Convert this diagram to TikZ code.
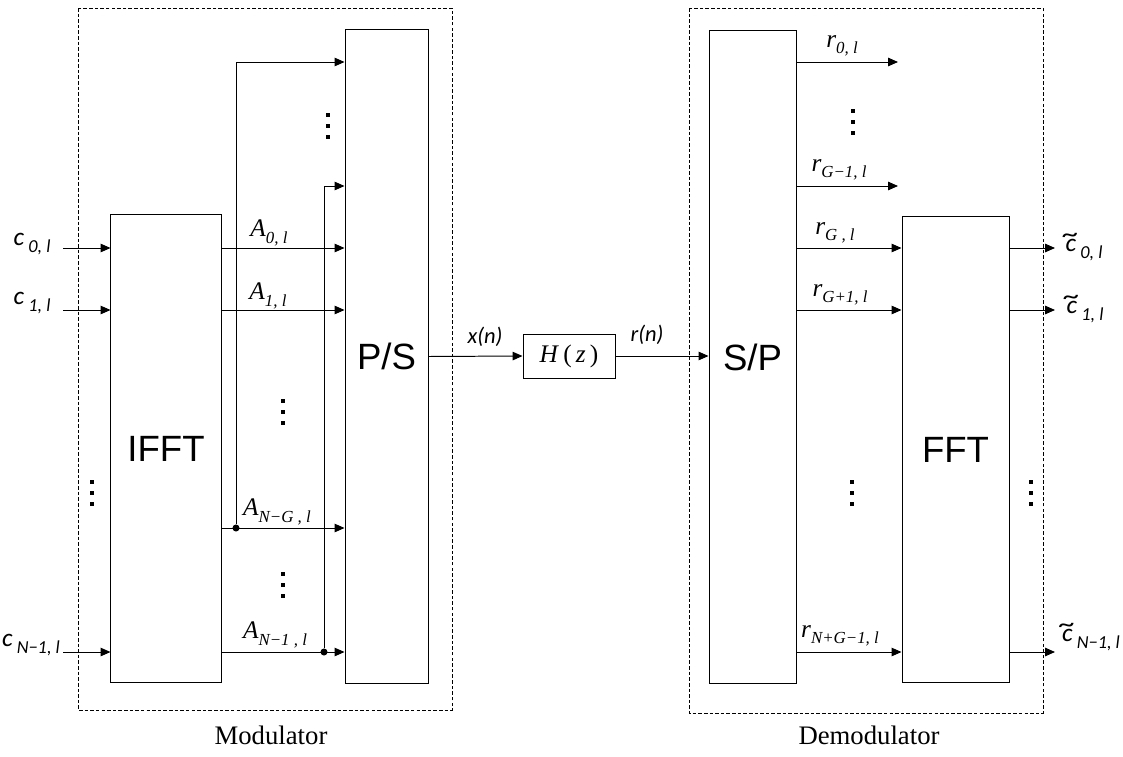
\documentclass[tikz,border=0pt]{standalone}
\usepackage{fontspec}
\setmainfont{Liberation Serif}
\newfontfamily\blkfont{Liberation Sans}
\newfontfamily\cfont{Carlito}
\usetikzlibrary{arrows.meta}

\newcommand{\mi}{\char"2212\relax}
\newcommand{\tc}{\ooalign{c\cr\hidewidth\raisebox{0.33em}{\scalebox{1.3}[1]{\textasciitilde}}\hidewidth\cr}}
\newcommand{\clab}[1]{{\cfont\itshape\fontsize{18}{19}\selectfont c\,\raisebox{-0.6ex}{\fontsize{13}{14}\selectfont #1}}}
\newcommand{\ctlab}[1]{{\cfont\itshape\fontsize{18}{19}\selectfont \tc\,\raisebox{-0.6ex}{\fontsize{13}{14}\selectfont #1}}}
\newcommand{\slab}[2]{{\itshape\fontsize{18}{19}\selectfont #1\raisebox{-0.55ex}{\fontsize{12}{13}\selectfont #2}}}

\begin{document}
\begin{tikzpicture}[x=0.025cm, y=-0.025cm,
    blk/.style={draw, line width=0.7pt, inner sep=0pt, font=\blkfont\fontsize{26}{30}\selectfont},
    grp/.style={line width=0.5pt, dash pattern=on 2.5pt off 1.5pt},
    sig/.style={line width=0.7pt, -{Triangle[length=7pt,width=6pt]}},
    lab/.style={inner sep=0pt},
    jn/.style={circle, fill, inner sep=0pt, minimum size=5pt},
    vdot/.pic={\foreach \k in {-11,0,11} \fill (-1.7,\k-1.7) rectangle ++(3.4,3.4);}]
    \useasboundingbox (0,0) rectangle (1123,756);

    % modulator and demodulator frames
    \draw[grp] (78,8) rectangle (452,710);
    \draw[grp] (689,8) rectangle (1043,713);

    % blocks
    \node[blk, minimum width=2.75cm, minimum height=11.675cm] (ifft) at (166,448.5) {IFFT};
    \node[blk, minimum width=2.075cm, minimum height=16.325cm] (ps) at (386.5,356.5) {P/S};
    \node[blk, minimum width=2.175cm, minimum height=16.3cm] (sp) at (752.5,357) {S/P};
    \node[blk, minimum width=2.675cm, minimum height=11.625cm] (fft) at (955.5,449.5) {FFT};
    \node[draw, line width=0.7pt, minimum width=2.3cm, minimum height=1.1cm, font=\fontsize{18}{20}\selectfont] (hz) at (569,356) {\textit{H}\,(\,\textit{z}\,)};

    % inputs
    \foreach \y/\n in {248/0, 310/1, 652/2} {
        \coordinate (in\n) at (63,\y);
        \draw[sig] (in\n) -- (in\n -| ifft.west);
    }
    \node[lab] (c0) at (32,244) {\clab{0, l}};
    \node[lab] (c1) at (32,303) {\clab{1, l}};
    \node[lab] (c2) at (31,645) {\clab{N\mi1, l}};
    \pic at (92,493) {vdot};

    % IFFT outputs
    \foreach \y/\n in {248/0, 310/1, 528/2, 652/3} {
        \coordinate (a\n) at (ifft.east |- 0,\y);
        \draw[sig] (a\n) -- (a\n -| ps.west);
    }
    \node[lab] (A0) at (269,233) {\slab{A}{0, l}};
    \node[lab] (A1) at (268,296) {\slab{A}{1, l}};
    \node[lab] (A2) at (277,512) {\slab{A}{N\mi G , l}};
    \node[lab] (A3) at (275,635) {\slab{A}{N\mi1 , l}};
    \pic at (283,412) {vdot};
    \pic at (283,585) {vdot};
    \pic at (328,126) {vdot};

    % cyclic prefix
    \node[jn] (j1) at (236,528) {};
    \node[jn] (j2) at (324,652) {};
    \draw[sig] (j1) |- (ps.west |- 0,62);
    \draw[sig] (j2) |- (ps.west |- 0,186);

    % channel
    \draw[sig] (ps.east) -- (hz.west);
    \draw[sig] (hz.east) -- (hz.east -| sp.west);
    \node[lab, font=\cfont\itshape\fontsize{16}{17}\selectfont] (xn) at (485,337) {x(n)};
    \node[lab, font=\cfont\itshape\fontsize{16}{17}\selectfont] (rn) at (647,335) {r(n)};

    % S/P outputs
    \foreach \y/\n in {62/0, 186/1} {
        \coordinate (o\n) at (898,\y);
        \draw[sig] (sp.east |- o\n) -- (o\n);
    }
    \foreach \y/\n in {248/2, 310/3, 652/4} {
        \coordinate (o\n) at (sp.east |- 0,\y);
        \draw[sig] (o\n) -- (o\n -| fft.west);
    }
    \node[lab] (r0) at (842,46) {\slab{r}{0, l}};
    \node[lab] (r1) at (839,170) {\slab{r}{G\mi1, l}};
    \node[lab] (r2) at (835,233) {\slab{r}{G , l}};
    \node[lab] (r3) at (840,295) {\slab{r}{G+1, l}};
    \node[lab] (r4) at (840,636) {\slab{r}{N+G\mi1, l}};
    \pic at (853,122) {vdot};
    \pic at (852,493) {vdot};

    % FFT outputs
    \foreach \y/\n in {248/0, 310/1, 652/2} {
        \coordinate (out\n) at (1055,\y);
        \draw[sig] (fft.east |- out\n) -- (out\n);
    }
    \node[lab] (d0) at (1084,250) {\ctlab{0, l}};
    \node[lab] (d1) at (1085,312) {\ctlab{1, l}};
    \node[lab] (d2) at (1091,640) {\ctlab{N\mi1, l}};
    \pic at (1031,493) {vdot};

    % captions
    \node[font=\fontsize{19}{22}\selectfont] (modcap) at (271,735) {Modulator};
    \node[font=\fontsize{19}{22}\selectfont] (democap) at (869,735) {Demodulator};
\end{tikzpicture}
\end{document}
